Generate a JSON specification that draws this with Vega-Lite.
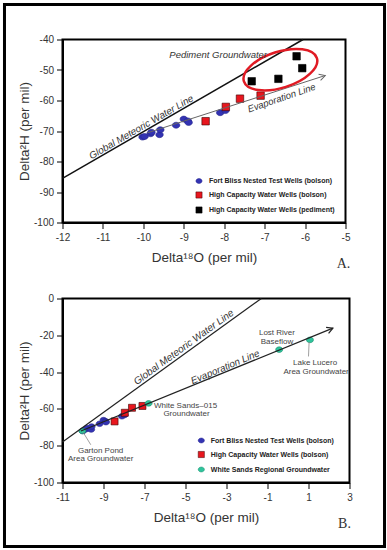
{
  "$schema": "https://vega.github.io/schema/vega-lite/v6.json",
  "padding": {"left": 1.5, "top": 1.5, "right": 0, "bottom": 0},
  "autosize": {"type": "pad"},
  "background": "white",
  "bounds": "flush",
  "spacing": 76,
  "config": {
    "locale": {"number": {"decimal": ".", "thousands": ",", "grouping": [3], "currency": ["$", ""], "minus": "-"}},
    "view": {"stroke": "#000", "strokeWidth": 2},
    "axis": {"domainColor": "#000", "domainWidth": 2, "tickColor": "#000", "tickWidth": 1, "tickSize": 6, "labelFont": "Liberation Sans", "labelFontSize": 10, "labelColor": "#333", "labelOverlap": false, "labelFlush": false, "titleFont": "Liberation Sans", "titleFontSize": 13.5, "titleFontWeight": "normal", "titleColor": "#333", "grid": false},
    "axisX": {"labelPadding": 4, "titlePadding": 8},
    "axisY": {"labelPadding": 3, "titlePadding": 2},
    "text": {"font": "Liberation Sans"}
  },
  "datasets": {
    "samples": [
      {"group": "Fort Bliss Nested Test Wells (bolson)", "x": -10.02, "y": -72.0},
      {"group": "Fort Bliss Nested Test Wells (bolson)", "x": -9.97, "y": -71.8},
      {"group": "Fort Bliss Nested Test Wells (bolson)", "x": -9.82, "y": -70.9},
      {"group": "Fort Bliss Nested Test Wells (bolson)", "x": -9.80, "y": -70.4},
      {"group": "Fort Bliss Nested Test Wells (bolson)", "x": -9.60, "y": -71.2},
      {"group": "Fort Bliss Nested Test Wells (bolson)", "x": -9.58, "y": -69.6},
      {"group": "Fort Bliss Nested Test Wells (bolson)", "x": -9.19, "y": -68.1},
      {"group": "Fort Bliss Nested Test Wells (bolson)", "x": -9.00, "y": -66.1},
      {"group": "Fort Bliss Nested Test Wells (bolson)", "x": -8.90, "y": -66.7},
      {"group": "Fort Bliss Nested Test Wells (bolson)", "x": -8.88, "y": -67.2},
      {"group": "Fort Bliss Nested Test Wells (bolson)", "x": -8.10, "y": -64.0},
      {"group": "Fort Bliss Nested Test Wells (bolson)", "x": -7.97, "y": -63.3},
      {"group": "High Capacity Water Wells (bolson)", "x": -8.46, "y": -66.8},
      {"group": "High Capacity Water Wells (bolson)", "x": -7.96, "y": -62.1},
      {"group": "High Capacity Water Wells (bolson)", "x": -7.61, "y": -59.4},
      {"group": "High Capacity Water Wells (bolson)", "x": -7.10, "y": -58.4},
      {"group": "High Capacity Water Wells (pediment)", "x": -7.32, "y": -53.7},
      {"group": "High Capacity Water Wells (pediment)", "x": -6.66, "y": -52.9},
      {"group": "High Capacity Water Wells (pediment)", "x": -6.21, "y": -45.5},
      {"group": "High Capacity Water Wells (pediment)", "x": -6.07, "y": -49.4},
      {"group": "White Sands Regional Groundwater", "x": -10.03, "y": -72.0},
      {"group": "White Sands Regional Groundwater", "x": -6.80, "y": -57.0},
      {"group": "White Sands Regional Groundwater", "x": -0.43, "y": -27.8},
      {"group": "White Sands Regional Groundwater", "x": 1.07, "y": -22.5}
    ]
  },
  "resolve": {"scale": {"fill": "independent", "stroke": "independent", "shape": "independent"}},
  "vconcat": [
    {
      "width": 283,
      "height": 183,
      "layer": [
        {
          "data": {"name": "samples"},
          "transform": [{"filter": "datum.group !== 'White Sands Regional Groundwater'"}],
          "mark": {"type": "point", "filled": true, "size": 56, "strokeWidth": 0.6, "opacity": 1},
          "encoding": {
            "x": {"field": "x", "type": "quantitative", "scale": {"domain": [-12, -5], "nice": false, "zero": false}, "axis": {"values": [-12, -11, -10, -9, -8, -7, -6, -5], "format": "d", "labelOverlap": false}, "title": "Delta¹⁸O (per mil)"},
            "y": {"field": "y", "type": "quantitative", "scale": {"domain": [-100, -40], "nice": false, "zero": false}, "axis": {"values": [-100, -90, -80, -70, -60, -50, -40], "format": "d", "labelOverlap": false}, "title": "Delta²H (per mil)"},
            "fill": {"field": "group", "type": "nominal", "scale": {"domain": ["Fort Bliss Nested Test Wells (bolson)", "High Capacity Water Wells (bolson)", "High Capacity Water Wells (pediment)"], "range": ["#3333b3", "#e8161e", "#000000"]}, "legend": {"title": null, "orient": "none", "legendX": 133, "legendY": 138, "padding": 0, "rowPadding": 6, "symbolSize": 38, "symbolOpacity": 1, "labelFont": "Liberation Sans", "labelFontSize": 7, "labelFontWeight": "bold", "labelColor": "#222", "labelOffset": 6.5, "symbolStrokeWidth": 0.5}},
            "stroke": {"field": "group", "type": "nominal", "scale": {"domain": ["Fort Bliss Nested Test Wells (bolson)", "High Capacity Water Wells (bolson)", "High Capacity Water Wells (pediment)"], "range": ["#25258c", "#3a0000", "#000000"]}, "legend": {"title": null, "orient": "none", "legendX": 133, "legendY": 138, "padding": 0, "rowPadding": 6, "symbolSize": 38, "symbolOpacity": 1, "labelFont": "Liberation Sans", "labelFontSize": 7, "labelFontWeight": "bold", "labelColor": "#222", "labelOffset": 6.5, "symbolStrokeWidth": 0.5}},
            "shape": {"field": "group", "type": "nominal", "scale": {"domain": ["Fort Bliss Nested Test Wells (bolson)", "High Capacity Water Wells (bolson)", "High Capacity Water Wells (pediment)"], "range": ["M 1 0 C 1 0.4418 0.5523 0.8 0 0.8 C -0.5523 0.8 -1 0.4418 -1 0 C -1 -0.4418 -0.5523 -0.8 0 -0.8 C 0.5523 -0.8 1 -0.4418 1 0 Z", "square", "square"]}, "legend": {"title": null, "orient": "none", "legendX": 133, "legendY": 138, "padding": 0, "rowPadding": 6, "symbolSize": 38, "symbolOpacity": 1, "labelFont": "Liberation Sans", "labelFontSize": 7, "labelFontWeight": "bold", "labelColor": "#222", "labelOffset": 6.5, "symbolStrokeWidth": 0.5}}
          }
        },
        {
          "data": {"values": [{"item": "frame"}]},
          "mark": {"type": "rect", "fill": "transparent", "stroke": "#000", "strokeWidth": 3},
          "encoding": {
            "x": {"datum": -13.435, "type": "quantitative", "axis": {"values": [-12, -11, -10, -9, -8, -7, -6, -5], "format": "d", "labelOverlap": false}, "title": "Delta¹⁸O (per mil)"},
            "x2": {"datum": -4.035},
            "y": {"datum": -28.52, "type": "quantitative", "axis": {"values": [-100, -90, -80, -70, -60, -50, -40], "format": "d", "labelOverlap": false}, "title": "Delta²H (per mil)"},
            "y2": {"datum": -206.23}
          }
        },
        {
          "data": {"values": [{"name": "Global Meteoric Water Line", "x": -12, "y": -85.5, "x2": -6.05, "y2": -40}]},
          "mark": {"type": "rule", "stroke": "#111", "strokeWidth": 1.5},
          "encoding": {
            "x": {"field": "x", "type": "quantitative", "axis": {"values": [-12, -11, -10, -9, -8, -7, -6, -5], "format": "d", "labelOverlap": false}, "title": "Delta¹⁸O (per mil)"},
            "y": {"field": "y", "type": "quantitative", "axis": {"values": [-100, -90, -80, -70, -60, -50, -40], "format": "d", "labelOverlap": false}, "title": "Delta²H (per mil)"},
            "x2": {"field": "x2"}, "y2": {"field": "y2"}
          }
        },
        {
          "data": {"values": [{"name": "Evaporation Line", "x": -9.9, "y": -70.6, "x2": -5.5, "y2": -51.8}]},
          "mark": {"type": "rule", "stroke": "#666", "strokeWidth": 1},
          "encoding": {
            "x": {"field": "x", "type": "quantitative", "axis": {"values": [-12, -11, -10, -9, -8, -7, -6, -5], "format": "d", "labelOverlap": false}, "title": "Delta¹⁸O (per mil)"},
            "y": {"field": "y", "type": "quantitative", "axis": {"values": [-100, -90, -80, -70, -60, -50, -40], "format": "d", "labelOverlap": false}, "title": "Delta²H (per mil)"},
            "x2": {"field": "x2"}, "y2": {"field": "y2"}
          }
        },
        {
          "data": {"values": [{"name": "Evaporation Line arrow", "x": -5.5, "y": -51.8}]},
          "mark": {"type": "point", "shape": "M -1 -0.55 L 0 0 L -1 0.55", "size": 144, "angle": -17.8, "filled": false, "stroke": "#666", "strokeWidth": 1, "opacity": 1},
          "encoding": {
            "x": {"field": "x", "type": "quantitative", "axis": {"values": [-12, -11, -10, -9, -8, -7, -6, -5], "format": "d", "labelOverlap": false}, "title": "Delta¹⁸O (per mil)"},
            "y": {"field": "y", "type": "quantitative", "axis": {"values": [-100, -90, -80, -70, -60, -50, -40], "format": "d", "labelOverlap": false}, "title": "Delta²H (per mil)"}
          }
        },
        {
          "data": {"values": [{"name": "Pediment Groundwater ring", "x": -6.61, "y": -49.9}]},
          "mark": {"type": "point", "shape": "M 1 0 C 1 0.2596 0.5523 0.47 0 0.47 C -0.5523 0.47 -1 0.2596 -1 0 C -1 -0.2596 -0.5523 -0.47 0 -0.47 C 0.5523 -0.47 1 -0.2596 1 0 Z", "size": 5868, "angle": -17.7, "filled": false, "stroke": "#e01b24", "strokeWidth": 2.5, "opacity": 1},
          "encoding": {
            "x": {"field": "x", "type": "quantitative", "axis": {"values": [-12, -11, -10, -9, -8, -7, -6, -5], "format": "d", "labelOverlap": false}, "title": "Delta¹⁸O (per mil)"},
            "y": {"field": "y", "type": "quantitative", "axis": {"values": [-100, -90, -80, -70, -60, -50, -40], "format": "d", "labelOverlap": false}, "title": "Delta²H (per mil)"}
          }
        },
        {
          "data": {"values": [{"label": "Pediment Groundwater", "x": -8.15, "y": -45.0}]},
          "mark": {"type": "text", "fontStyle": "italic", "fontSize": 9.5, "color": "#333", "align": "center", "baseline": "middle"},
          "encoding": {
            "x": {"field": "x", "type": "quantitative", "axis": {"values": [-12, -11, -10, -9, -8, -7, -6, -5], "format": "d", "labelOverlap": false}, "title": "Delta¹⁸O (per mil)"},
            "y": {"field": "y", "type": "quantitative", "axis": {"values": [-100, -90, -80, -70, -60, -50, -40], "format": "d", "labelOverlap": false}, "title": "Delta²H (per mil)"},
            "text": {"field": "label"}
          }
        },
        {
          "data": {"values": [{"label": "Global Meteoric Water Line", "x": -10.05, "y": -68.75}]},
          "mark": {"type": "text", "fontStyle": "italic", "fontSize": 9.8, "color": "#333", "align": "center", "baseline": "middle", "angle": -30},
          "encoding": {
            "x": {"field": "x", "type": "quantitative", "axis": {"values": [-12, -11, -10, -9, -8, -7, -6, -5], "format": "d", "labelOverlap": false}, "title": "Delta¹⁸O (per mil)"},
            "y": {"field": "y", "type": "quantitative", "axis": {"values": [-100, -90, -80, -70, -60, -50, -40], "format": "d", "labelOverlap": false}, "title": "Delta²H (per mil)"},
            "text": {"field": "label"}
          }
        },
        {
          "data": {"values": [{"label": "Evaporation Line", "x": -6.58, "y": -59.2}]},
          "mark": {"type": "text", "fontStyle": "italic", "fontSize": 9.5, "color": "#333", "align": "center", "baseline": "middle", "angle": -19},
          "encoding": {
            "x": {"field": "x", "type": "quantitative", "axis": {"values": [-12, -11, -10, -9, -8, -7, -6, -5], "format": "d", "labelOverlap": false}, "title": "Delta¹⁸O (per mil)"},
            "y": {"field": "y", "type": "quantitative", "axis": {"values": [-100, -90, -80, -70, -60, -50, -40], "format": "d", "labelOverlap": false}, "title": "Delta²H (per mil)"},
            "text": {"field": "label"}
          }
        },
        {
          "data": {"values": [{"label": "A."}]},
          "mark": {"type": "text", "font": "Liberation Serif", "fontSize": 14, "color": "#333", "align": "center", "baseline": "middle"},
          "encoding": {
            "x": {"datum": -5.05, "type": "quantitative", "axis": {"values": [-12, -11, -10, -9, -8, -7, -6, -5], "format": "d", "labelOverlap": false}, "title": "Delta¹⁸O (per mil)"},
            "y": {"datum": -113.77, "type": "quantitative", "axis": {"values": [-100, -90, -80, -70, -60, -50, -40], "format": "d", "labelOverlap": false}, "title": "Delta²H (per mil)"},
            "text": {"field": "label"}
          }
        }
      ]
    },
    {
      "width": 287,
      "height": 184,
      "layer": [
        {
          "data": {"name": "samples"},
          "transform": [{"filter": "datum.group !== 'High Capacity Water Wells (pediment)'"}],
          "mark": {"type": "point", "filled": true, "size": 49, "strokeWidth": 0.6, "opacity": 1},
          "encoding": {
            "x": {"field": "x", "type": "quantitative", "scale": {"domain": [-11, 3], "nice": false, "zero": false}, "axis": {"values": [-11, -9, -7, -5, -3, -1, 1, 3], "format": "d", "labelOverlap": false}, "title": "Delta¹⁸O (per mil)"},
            "y": {"field": "y", "type": "quantitative", "scale": {"domain": [-100, 0], "nice": false, "zero": false}, "axis": {"values": [-100, -80, -60, -40, -20, 0], "format": "d", "labelOverlap": false}, "title": "Delta²H (per mil)"},
            "fill": {"field": "group", "type": "nominal", "scale": {"domain": ["Fort Bliss Nested Test Wells (bolson)", "High Capacity Water Wells (bolson)", "White Sands Regional Groundwater"], "range": ["#3333b3", "#e8161e", "#2fc49c"]}, "legend": {"title": null, "orient": "none", "legendX": 135.3, "legendY": 138.5, "padding": 0, "rowPadding": 6, "symbolSize": 38, "symbolOpacity": 1, "labelFont": "Liberation Sans", "labelFontSize": 7, "labelFontWeight": "bold", "labelColor": "#222", "labelOffset": 6, "symbolStrokeWidth": 0.5}},
            "stroke": {"field": "group", "type": "nominal", "scale": {"domain": ["Fort Bliss Nested Test Wells (bolson)", "High Capacity Water Wells (bolson)", "White Sands Regional Groundwater"], "range": ["#25258c", "#3a0000", "#178a6a"]}, "legend": {"title": null, "orient": "none", "legendX": 135.3, "legendY": 138.5, "padding": 0, "rowPadding": 6, "symbolSize": 38, "symbolOpacity": 1, "labelFont": "Liberation Sans", "labelFontSize": 7, "labelFontWeight": "bold", "labelColor": "#222", "labelOffset": 6, "symbolStrokeWidth": 0.5}},
            "shape": {"field": "group", "type": "nominal", "scale": {"domain": ["Fort Bliss Nested Test Wells (bolson)", "High Capacity Water Wells (bolson)", "White Sands Regional Groundwater"], "range": ["M 1 0 C 1 0.4418 0.5523 0.8 0 0.8 C -0.5523 0.8 -1 0.4418 -1 0 C -1 -0.4418 -0.5523 -0.8 0 -0.8 C 0.5523 -0.8 1 -0.4418 1 0 Z", "square", "M 1 0 C 1 0.4418 0.5523 0.8 0 0.8 C -0.5523 0.8 -1 0.4418 -1 0 C -1 -0.4418 -0.5523 -0.8 0 -0.8 C 0.5523 -0.8 1 -0.4418 1 0 Z"]}, "legend": {"title": null, "orient": "none", "legendX": 135.3, "legendY": 138.5, "padding": 0, "rowPadding": 6, "symbolSize": 38, "symbolOpacity": 1, "labelFont": "Liberation Sans", "labelFontSize": 7, "labelFontWeight": "bold", "labelColor": "#222", "labelOffset": 6, "symbolStrokeWidth": 0.5}}
          }
        },
        {
          "data": {"values": [
            {"name": "Global Meteoric Water Line", "x": -11, "y": -78, "x2": -1.3, "y2": 0},
            {"name": "Evaporation Line", "x": -10.1, "y": -72.0, "x2": 2.19, "y2": -16.1}
          ]},
          "mark": {"type": "rule", "stroke": "#222", "strokeWidth": 1.2},
          "encoding": {
            "x": {"field": "x", "type": "quantitative", "axis": {"values": [-11, -9, -7, -5, -3, -1, 1, 3], "format": "d", "labelOverlap": false}, "title": "Delta¹⁸O (per mil)"},
            "y": {"field": "y", "type": "quantitative", "axis": {"values": [-100, -80, -60, -40, -20, 0], "format": "d", "labelOverlap": false}, "title": "Delta²H (per mil)"},
            "x2": {"field": "x2"}, "y2": {"field": "y2"}
          }
        },
        {
          "data": {"values": [
            {"name": "Garton Pond leader", "x": -10.0, "y": -72.6, "x2": -9.62, "y2": -79.5},
            {"name": "Lake Lucero leader", "x": 1.03, "y": -23.6, "x2": 1.0, "y2": -31.5}
          ]},
          "mark": {"type": "rule", "stroke": "#888", "strokeWidth": 0.8},
          "encoding": {
            "x": {"field": "x", "type": "quantitative", "axis": {"values": [-11, -9, -7, -5, -3, -1, 1, 3], "format": "d", "labelOverlap": false}, "title": "Delta¹⁸O (per mil)"},
            "y": {"field": "y", "type": "quantitative", "axis": {"values": [-100, -80, -60, -40, -20, 0], "format": "d", "labelOverlap": false}, "title": "Delta²H (per mil)"},
            "x2": {"field": "x2"}, "y2": {"field": "y2"}
          }
        },
        {
          "data": {"values": [{"name": "Evaporation Line arrow", "x": 2.19, "y": -16.1}]},
          "mark": {"type": "point", "shape": "M -1 -0.55 L 0 0 L -1 0.55", "size": 144, "angle": -22.2, "filled": false, "stroke": "#222", "strokeWidth": 1.2, "opacity": 1},
          "encoding": {
            "x": {"field": "x", "type": "quantitative", "axis": {"values": [-11, -9, -7, -5, -3, -1, 1, 3], "format": "d", "labelOverlap": false}, "title": "Delta¹⁸O (per mil)"},
            "y": {"field": "y", "type": "quantitative", "axis": {"values": [-100, -80, -60, -40, -20, 0], "format": "d", "labelOverlap": false}, "title": "Delta²H (per mil)"}
          }
        },
        {
          "data": {"values": [{"label": "Global Meteoric Water Line", "x": -5.08, "y": -26.5}]},
          "mark": {"type": "text", "fontStyle": "italic", "fontSize": 10, "color": "#333", "align": "center", "baseline": "middle", "angle": -36},
          "encoding": {
            "x": {"field": "x", "type": "quantitative", "axis": {"values": [-11, -9, -7, -5, -3, -1, 1, 3], "format": "d", "labelOverlap": false}, "title": "Delta¹⁸O (per mil)"},
            "y": {"field": "y", "type": "quantitative", "axis": {"values": [-100, -80, -60, -40, -20, 0], "format": "d", "labelOverlap": false}, "title": "Delta²H (per mil)"},
            "text": {"field": "label"}
          }
        },
        {
          "data": {"values": [{"label": "Evaporation Line", "x": -3.06, "y": -37.3}]},
          "mark": {"type": "text", "fontStyle": "italic", "fontSize": 9.8, "color": "#333", "align": "center", "baseline": "middle", "angle": -23},
          "encoding": {
            "x": {"field": "x", "type": "quantitative", "axis": {"values": [-11, -9, -7, -5, -3, -1, 1, 3], "format": "d", "labelOverlap": false}, "title": "Delta¹⁸O (per mil)"},
            "y": {"field": "y", "type": "quantitative", "axis": {"values": [-100, -80, -60, -40, -20, 0], "format": "d", "labelOverlap": false}, "title": "Delta²H (per mil)"},
            "text": {"field": "label"}
          }
        },
        {
          "data": {"values": [
            {"label": "Lost River", "x": -0.54, "y": -18.8},
            {"label": "Baseflow", "x": -0.54, "y": -23.7},
            {"label": "Lake Lucero", "x": 1.32, "y": -35.1},
            {"label": "Area Groundwater", "x": 1.37, "y": -40.0},
            {"label": "White Sands–015", "x": -5.0, "y": -58.2},
            {"label": "Groundwater", "x": -4.95, "y": -62.9},
            {"label": "Garton Pond", "x": -9.14, "y": -82.8},
            {"label": "Area Groundwater", "x": -9.14, "y": -87.3}
          ]},
          "mark": {"type": "text", "fontSize": 8, "color": "#444", "align": "center", "baseline": "middle"},
          "encoding": {
            "x": {"field": "x", "type": "quantitative", "axis": {"values": [-11, -9, -7, -5, -3, -1, 1, 3], "format": "d", "labelOverlap": false}, "title": "Delta¹⁸O (per mil)"},
            "y": {"field": "y", "type": "quantitative", "axis": {"values": [-100, -80, -60, -40, -20, 0], "format": "d", "labelOverlap": false}, "title": "Delta²H (per mil)"},
            "text": {"field": "label"}
          }
        },
        {
          "data": {"values": [{"label": "B."}]},
          "mark": {"type": "text", "font": "Liberation Serif", "fontSize": 14, "color": "#333", "align": "center", "baseline": "middle"},
          "encoding": {
            "x": {"datum": 2.756, "type": "quantitative", "axis": {"values": [-11, -9, -7, -5, -3, -1, 1, 3], "format": "d", "labelOverlap": false}, "title": "Delta¹⁸O (per mil)"},
            "y": {"datum": -122.3, "type": "quantitative", "axis": {"values": [-100, -80, -60, -40, -20, 0], "format": "d", "labelOverlap": false}, "title": "Delta²H (per mil)"},
            "text": {"field": "label"}
          }
        }
      ]
    }
  ]
}
